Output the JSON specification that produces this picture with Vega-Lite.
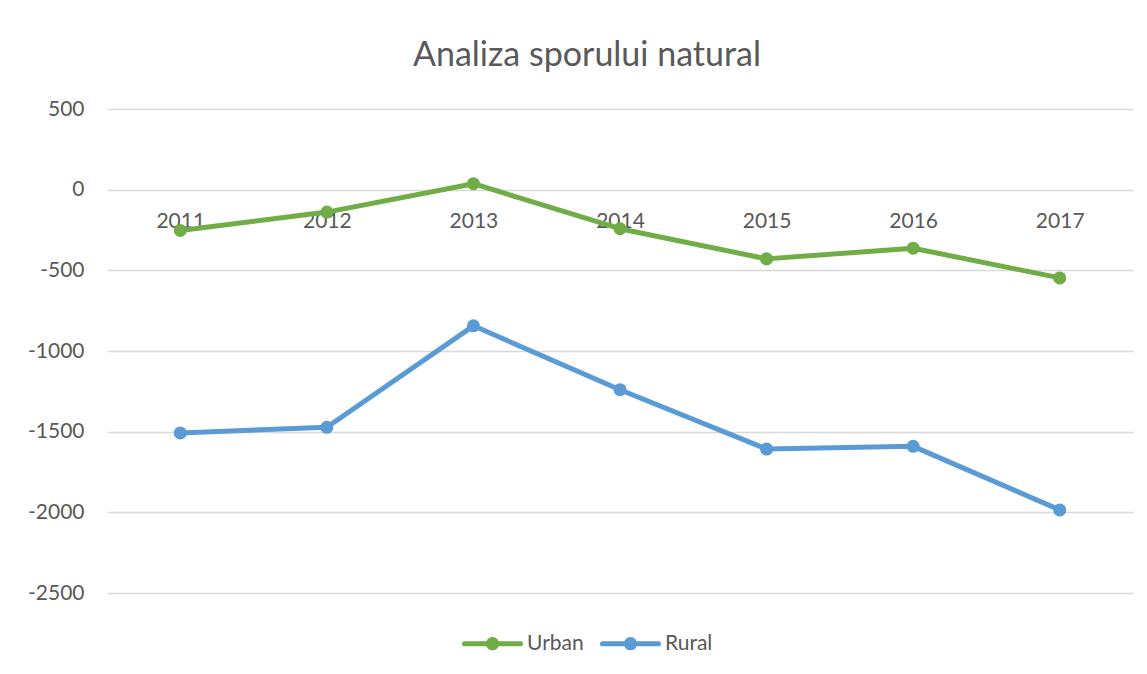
{
  "$schema": "https://vega.github.io/schema/vega-lite/v6.json",
  "width": 1026,
  "height": 484,
  "autosize": {"type": "none"},
  "padding": {"left": 107, "top": 109, "right": 14, "bottom": 81},
  "background": "white",
  "title": {
    "text": "Analiza sporului natural",
    "font": "Lato",
    "fontSize": 34,
    "fontWeight": "normal",
    "color": "#595959",
    "anchor": "middle",
    "baseline": "alphabetic",
    "offset": -2,
    "dx": -33
  },
  "data": {
    "values": [
      {"year": "2011", "series": "Urban", "value": -253},
      {"year": "2012", "series": "Urban", "value": -139},
      {"year": "2013", "series": "Urban", "value": 37},
      {"year": "2014", "series": "Urban", "value": -242},
      {"year": "2015", "series": "Urban", "value": -429},
      {"year": "2016", "series": "Urban", "value": -363},
      {"year": "2017", "series": "Urban", "value": -547},
      {"year": "2011", "series": "Rural", "value": -1508},
      {"year": "2012", "series": "Rural", "value": -1473},
      {"year": "2013", "series": "Rural", "value": -844},
      {"year": "2014", "series": "Rural", "value": -1240},
      {"year": "2015", "series": "Rural", "value": -1608},
      {"year": "2016", "series": "Rural", "value": -1591},
      {"year": "2017", "series": "Rural", "value": -1985}
    ]
  },
  "encoding": {
    "x": {
      "field": "year",
      "type": "ordinal",
      "scale": {"type": "point", "padding": 0.5},
      "axis": {
        "title": null,
        "orient": "bottom",
        "offset": -404,
        "domain": false,
        "ticks": false,
        "grid": false,
        "labelAngle": 0,
        "labelPadding": 21,
        "labelFont": "Lato",
        "labelFontSize": 21,
        "labelColor": "#595959"
      }
    },
    "y": {
      "field": "value",
      "type": "quantitative",
      "scale": {"domain": [-2500, 500], "nice": false, "zero": false},
      "axis": {
        "title": null,
        "values": [-2500, -2000, -1500, -1000, -500, 0, 500],
        "labelExpr": "'' + datum.value",
        "domain": false,
        "ticks": false,
        "grid": true,
        "gridColor": "#D9D9D9",
        "gridWidth": 1.5,
        "labelPadding": 23,
        "labelFont": "Lato",
        "labelFontSize": 21,
        "labelColor": "#595959"
      }
    },
    "color": {
      "field": "series",
      "type": "nominal",
      "scale": {"domain": ["Urban", "Rural"], "range": ["#70AD47", "#5B9BD5"]},
      "legend": {
        "title": null,
        "orient": "none",
        "direction": "horizontal",
        "legendX": 355,
        "legendY": 504,
        "symbolType": "M-1,0L1,0M0.15,0A0.15,0.15,0,1,1,-0.15,0A0.15,0.15,0,1,1,0.15,0Z",
        "symbolSize": 3136,
        "symbolStrokeWidth": 5,
        "labelFont": "Lato",
        "labelFontSize": 21,
        "labelColor": "#595959",
        "labelOffset": 4,
        "columnPadding": 8,
        "encode": {
          "symbols": {
            "update": {
              "fill": {"scale": "color", "field": "value"},
              "stroke": {"scale": "color", "field": "value"},
              "strokeCap": {"value": "round"},
              "opacity": {"value": 1}
            }
          }
        }
      }
    }
  },
  "layer": [
    {
      "mark": {"type": "line", "strokeWidth": 5, "strokeCap": "round", "strokeJoin": "round"},
      "encoding": {"detail": {"field": "series"}}
    },
    {
      "mark": {"type": "point", "filled": true, "size": 170, "opacity": 1},
      "encoding": {}
    }
  ],
  "config": {
    "view": {"stroke": null}
  }
}
